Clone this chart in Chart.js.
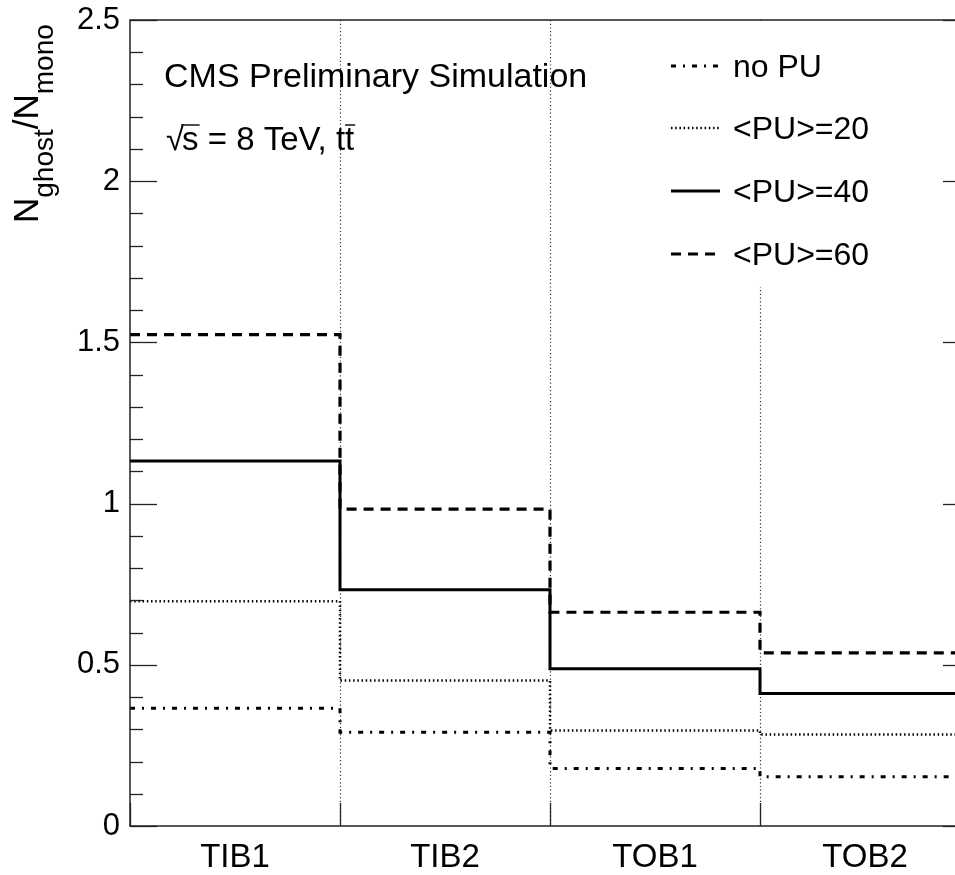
<!DOCTYPE html>
<html>
<head>
<meta charset="utf-8">
<script src="https://cdn.jsdelivr.net/npm/chart.js@4.4.0/dist/chart.umd.min.js"></script>
<style>
  html, body { margin: 0; padding: 0; background: #fff; overflow: hidden; }
  #wrap { width: 955px; height: 875px; overflow: hidden; position: relative; }
  canvas { display: block; }
</style>
</head>
<body>
<div id="wrap"><canvas id="c" width="990" height="875"></canvas></div>
<script>
// Layers of the silicon strip tracker
const categories = ['TIB1', 'TIB2', 'TOB1', 'TOB2'];

// Ghost / mono hit ratio per layer, one array per pile-up scenario
const noPU = [0.365, 0.291, 0.178, 0.153];
const pu20 = [0.697, 0.451, 0.296, 0.284];
const pu40 = [1.132, 0.733, 0.488, 0.411];
const pu60 = [1.524, 0.983, 0.663, 0.537];

const seriesNames = ['no PU', '<PU>=20', '<PU>=40', '<PU>=60'];
const yTickValues = [0, 0.5, 1, 1.5, 2, 2.5];

const FONT = '"Liberation Sans", Arial, Helvetica, sans-serif';

// Line styles: dash-dot, dotted, solid, dashed
const lineStyles = [
  { dash: [5, 7, 2, 7], width: 3 },
  { dash: [1.5, 2.7], width: 2.5 },
  { dash: [], width: 3 },
  { dash: [10, 7], width: 3.2 }
];

// Histogram outline: each bin value held across [i, i+1]
function histPoints(vals) {
  const pts = vals.map((v, i) => ({ x: i, y: v }));
  pts.push({ x: vals.length, y: vals[vals.length - 1] });
  return pts;
}

const seriesValues = [noPU, pu20, pu40, pu60];

const datasets = seriesValues.map((vals, i) => ({
  label: seriesNames[i],
  data: histPoints(vals),
  stepped: true,
  borderColor: '#000',
  borderWidth: lineStyles[i].width,
  borderDash: lineStyles[i].dash,
  borderCapStyle: 'butt',
  pointRadius: 0,
  fill: false,
  tension: 0
}));

function line(ctx, x1, y1, x2, y2) {
  ctx.beginPath();
  ctx.moveTo(x1, y1);
  ctx.lineTo(x2, y2);
  ctx.stroke();
}

const framePlugin = {
  id: 'frame',
  beforeDatasetsDraw(chart) {
    const { ctx, chartArea: a, scales: { x } } = chart;
    ctx.save();
    // dotted grid at the bin edges
    ctx.strokeStyle = '#333';
    ctx.lineWidth = 1.2;
    ctx.setLineDash([1.2, 2.5]);
    for (let i = 1; i < categories.length; i++) {
      const px = Math.round(x.getPixelForValue(i)) + 0.5;
      line(ctx, px, a.top, px, a.bottom);
    }
    ctx.setLineDash([]);
    // legend panel background
    ctx.fillStyle = '#fff';
    ctx.fillRect(655, a.top + 1, a.right - 656, 287 - a.top - 1);
    ctx.restore();
  },
  afterDatasetsDraw(chart) {
    const { ctx, chartArea: a, scales: { x, y } } = chart;
    ctx.save();
    ctx.setLineDash([]);
    ctx.strokeStyle = '#222';
    ctx.lineWidth = 1.5;
    ctx.strokeRect(a.left, a.top, a.right - a.left, a.bottom - a.top);

    // y ticks: major every 0.5, minor every 0.1, on both sides
    ctx.lineWidth = 1.3;
    for (let k = 0; k <= 25; k++) {
      const py = Math.round(y.getPixelForValue(k / 10)) + 0.5;
      const len = (k % 5 === 0) ? 27 : 13;
      line(ctx, a.left, py, a.left + len, py);
      line(ctx, a.right, py, a.right - len, py);
    }
    // x ticks at the bin edges
    for (let i = 0; i <= categories.length; i++) {
      const px = Math.round(x.getPixelForValue(i)) + 0.5;
      line(ctx, px, a.bottom, px, a.bottom - 23);
    }

    ctx.fillStyle = '#000';
    ctx.textBaseline = 'alphabetic';
    ctx.textAlign = 'left';

    // header text
    ctx.font = '34px ' + FONT;
    ctx.fillText('CMS Preliminary Simulation', 164, 87);

    // sqrt(s) = 8 TeV, t tbar
    ctx.font = '33px ' + FONT;
    let cx = 166;
    const by = 150;
    ctx.fillText('\u221A', cx, by);
    const rw = ctx.measureText('\u221A').width;
    const rTop = by - ctx.measureText('\u221A').actualBoundingBoxAscent;
    cx += rw - 2;
    const sw = ctx.measureText('s').width;
    ctx.fillText('s', cx, by);
    ctx.lineWidth = 1.6;
    line(ctx, cx - 1, rTop + 1, cx + sw + 1, rTop + 1);
    cx += sw;
    const mid = ' = 8 TeV, t';
    ctx.fillText(mid, cx, by);
    cx += ctx.measureText(mid).width;
    const tw = ctx.measureText('t').width;
    ctx.fillText('t', cx, by);
    const tTop = by - ctx.measureText('t').actualBoundingBoxAscent;
    line(ctx, cx, tTop - 3, cx + tw + 1, tTop - 3);

    // legend
    const rows = [66, 128, 191, 254];
    ctx.font = '32px ' + FONT;
    ctx.textBaseline = 'middle';
    rows.forEach((ry, i) => {
      ctx.strokeStyle = '#000';
      ctx.lineWidth = lineStyles[i].width;
      ctx.setLineDash(lineStyles[i].dash);
      line(ctx, 671, ry, 720, ry);
      ctx.setLineDash([]);
      ctx.fillText(seriesNames[i], 733, ry + 2);
    });

    // y-axis title N_ghost / N_mono, written bottom to top
    ctx.save();
    ctx.translate(38, 223);
    ctx.rotate(-Math.PI / 2);
    ctx.textBaseline = 'alphabetic';
    const big = '35px ' + FONT, small = '28px ' + FONT;
    let tx = 0;
    const part = (txt, f, dy) => {
      ctx.font = f;
      ctx.fillText(txt, tx, dy);
      tx += ctx.measureText(txt).width;
    };
    part('N', big, 0);
    part('ghost', small, 15);
    part('/', big, 0);
    part('N', big, 0);
    part('mono', small, 15);
    ctx.restore();

    ctx.restore();
  }
};

new Chart(document.getElementById('c'), {
  type: 'line',
  data: { datasets },
  options: {
    responsive: false,
    animation: false,
    devicePixelRatio: 1,
    layout: { padding: { top: 20, right: 20, left: 0, bottom: 0 } },
    plugins: { legend: { display: false }, tooltip: { enabled: false } },
    elements: { point: { radius: 0 } },
    scales: {
      x: {
        type: 'linear',
        min: 0,
        max: categories.length,
        grid: { display: false, drawTicks: false },
        border: { display: false },
        afterBuildTicks(scale) {
          scale.ticks = categories.map((c, i) => ({ value: i + 0.5 }));
        },
        afterFit(scale) { scale.height = 49; },
        ticks: {
          autoSkip: false,
          maxRotation: 0,
          padding: 12,
          color: '#000',
          font: { family: FONT, size: 33 },
          callback: (v) => categories[Math.floor(v)]
        }
      },
      y: {
        min: 0,
        max: 2.5,
        grid: { display: false, drawTicks: false },
        border: { display: false },
        afterBuildTicks(scale) {
          scale.ticks = yTickValues.map(v => ({ value: v }));
        },
        afterFit(scale) { scale.width = 130; },
        ticks: {
          padding: 10,
          color: '#000',
          font: { family: FONT, size: 31, lineHeight: 0.4 },
          callback: (v) => String(v)
        }
      }
    }
  },
  plugins: [framePlugin]
});
</script>
</body>
</html>
